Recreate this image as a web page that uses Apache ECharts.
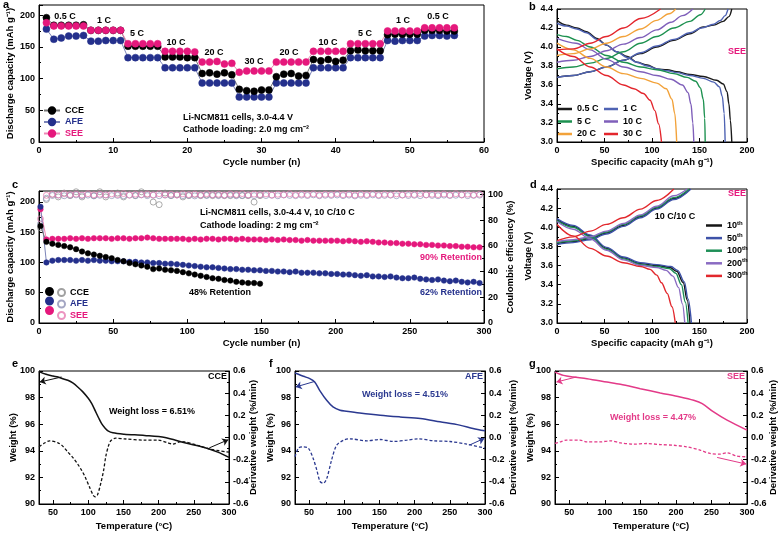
<!DOCTYPE html>
<html lang="en">
<head>
<meta charset="UTF-8">
<title>Li-NCM811 electrolytes</title>
<script src="https://cdn.jsdelivr.net/npm/echarts@6/dist/echarts.min.js"></script>
<style>
  html, body { margin: 0; padding: 0; background: #fff; }
  #main { width: 780px; height: 534px; }
</style>
</head>
<body>
<div id="main"></div>
<script>
// ---------- a : rate capability ----------
var rateCycles = [1,2,3,4,5,6,7,8,9,10,11,12,13,14,15,16,17,18,19,20,21,22,23,24,25,26,27,28,
  29,30,31,32,33,34,35,36,37,38,39,40,41,42,43,44,45,46,47,48,49,50,51,52,53,54,55,56];
var rateCCE = [196,184,184,184,184,185, 176,176,176,176,176, 151,151,151,151,151, 134,134,134,133,133,
  108,109,107,109,106, 83,81,80,82,82, 103,107,108,104,105, 130,128,130,127,129, 144,145,144,144,144,
  169,170,170,170,170, 176,176,176,175,175];
var rateAFE = [178,162,164,167,167,168, 159,159,160,160,160, 133,133,133,133,133, 117,117,117,117,117,
  93,93,93,93,93, 71,71,71,71,71, 93,93,93,93,93, 117,117,117,117,117, 133,133,133,133,133,
  160,159,160,160,160, 167,168,168,167,168];
var rateSEE = [188,183,183,183,183,183, 176,176,176,176,176, 155,155,155,155,155, 143,143,143,143,142,
  126,126,127,123,124, 110,112,112,112,112, 126,126,126,126,126, 143,143,143,143,143, 155,155,155,155,155,
  175,175,175,175,175, 180,180,180,180,180];

// ---------- c : long cycling at 10 C ----------
var longCycles = [1,5,9,13,17,21,25,29,33,37,41,45,49,53,57,61,65,69,73,77,81,85,89,93,97,
  101,105,109,113,117,121,125,129,133,137,141,145,149,153,157,161,165,169,173,177,181,185,189,193,197,
  201,205,209,213,217,221,225,229,233,237,241,245,249,253,257,261,265,269,273,277,281,285,289,293,297];
var capSEE = [188,138,139,139,139,140,139,140,139,140,140,140,139,140,140,139,140,140,141,140,139,139,139,139,139,
  138,139,138,139,139,138,139,139,138,139,138,138,138,137,138,137,138,137,137,136,137,136,136,136,136,
  136,135,136,135,134,135,134,133,133,132,132,131,131,130,130,129,129,128,128,127,127,126,126,125,125];
var capAFE = [192,100,103,104,104,104,103,104,103,104,103,103,102,102,102,101,101,100,100,99,99,98,98,97,96,
  95,94,93,92,92,91,90,89,89,88,88,87,87,86,86,85,85,84,85,83,83,83,82,82,81,
  81,80,80,79,78,79,77,77,76,77,75,74,74,75,73,72,71,72,70,69,70,68,67,68,66];
var capCCE = [160,134,131,129,127,125,122,118,115,113,111,109,107,104,102,99,97,95,93,89,
  90,88,87,86,84,82,80,78,76,74,73,71,70,68,67,66,66,65];
var ceSEE = [81,99.2,100.1,99.6,100.4,99.8,100.2,99.5,100.5,99.7,100.1,99.6,100.4,99.9,100.6,
  99.5,100.2,99.8,100.3,99.6,100.5,99.7,100.1,99.5,100.4,99.8,100.2,99.6,100.5,99.7,
  100.1,99.5,100.3,99.9,100.6,99.6,100.2,99.8,100.4,99.5,100.1,99.7,100.5,99.6,100.2,
  99.8,100.4,99.5,100.1,99.9,100.6,99.7,100.2,99.5,100.3,99.8,100.5,99.6,100.1,99.7,
  100.4,99.5,100.2,99.9,100.6,99.6,100.1,99.8,100.3,99.5,100.5,99.7,100.2,99.6,100.1];
var ceAFE = [77,97,99.1,99.4,98.9,99.3,99.6,99.0,99.4,98.8,99.3,99.5,99.0,99.2,98.9,
  99.4,99.1,99.6,99.0,99.3,98.9,99.4,99.2,99.5,99.0,99.3,98.8,99.4,99.1,99.6,
  99.0,99.3,99.5,98.9,99.2,99.4,99.0,99.6,99.1,99.3,98.9,99.5,99.2,99.0,99.4,
  99.1,99.6,98.9,99.3,99.2,99.5,99.0,99.4,98.8,99.3,99.1,99.6,99.0,99.2,99.4,
  98.9,99.5,99.1,99.3,99.0,99.6,99.2,98.9,99.4,99.1,99.3,99.5,99.0,99.2,99.4];
var ceCCE = [74,96,100,98,101,99,102,98,103,99,102,98,103,101,98,103,99,102,100,94,
  92,101,99,100,98,99,100,99,99.5,99,99.5,99,99,99.5,99,99,94,99];

// ---------- b : SEE voltage profiles at different rates ----------
var b05Dis = [[0,4.28],[10,4.23],[21,4.2],[31,4.16],[42,4.09],[52,4.02],[63,3.95],[74,3.9],[84,3.84],[95,3.81],
  [105,3.77],[116,3.76],[126,3.74],[140,3.71],[154,3.69],[168,3.65],[175,3.61],[179,3.53],[181,3.4],[182.5,3.23],[184,3.0]];
var b05Chg = [[0,3.68],[17,3.7],[35,3.74],[52,3.79],[70,3.86],[88,3.93],[105,4.0],[123,4.07],[140,4.14],[154,4.21],
  [165,4.23],[175,4.27],[181,4.32],[184,4.4]];
var b1Dis = [[0,4.25],[10,4.22],[21,4.19],[31,4.15],[42,4.08],[52,4.02],[63,3.95],[74,3.89],[84,3.84],[95,3.8],
  [105,3.77],[116,3.75],[126,3.73],[140,3.7],[154,3.67],[165,3.63],[171,3.58],[174,3.48],[176,3.3],[177,3.0]];
var b1Chg = [[0,3.68],[17,3.7],[35,3.74],[52,3.79],[70,3.86],[88,3.94],[105,4.01],[123,4.08],[140,4.15],[152,4.2],
  [165,4.24],[172,4.28],[177,4.33],[180,4.4]];
var b5Dis = [[0,4.13],[10,4.11],[21,4.07],[35,4.0],[52,3.91],[70,3.84],[88,3.79],[105,3.76],[123,3.72],[137,3.68],
  [146,3.64],[151,3.57],[154,3.45],[155.5,3.25],[156,3.0]];
var b5Chg = [[0,3.77],[17,3.79],[35,3.83],[52,3.88],[70,3.95],[88,4.04],[105,4.11],[123,4.2],[140,4.27],[151,4.34],[156,4.4]];
var b10Dis = [[0,4.09],[20,4.04],[35,3.97],[52,3.87],[70,3.79],[88,3.74],[105,3.7],[120,3.66],[132,3.6],[138,3.52],
  [141,3.4],[143,3.2],[144,3.0]];
var b10Chg = [[0,3.84],[17,3.86],[35,3.9],[52,3.96],[70,4.03],[88,4.1],[105,4.18],[120,4.26],[132,4.33],[143,4.4]];
var b20Dis = [[0,4.04],[17,3.97],[35,3.88],[52,3.79],[70,3.72],[88,3.67],[105,3.62],[115,3.56],[121,3.45],[124,3.3],[126,3.0]];
var b20Chg = [[0,3.91],[17,3.93],[35,3.98],[52,4.04],[70,4.11],[88,4.19],[105,4.28],[118,4.35],[125,4.4]];
var b30Dis = [[0,3.98],[17,3.9],[35,3.79],[52,3.7],[70,3.6],[81,3.56],[91,3.51],[98,3.44],[103,3.33],[107,3.19],[110,3.0]];
var b30Chg = [[0,3.97],[17,3.98],[35,4.04],[52,4.11],[70,4.2],[88,4.3],[109,4.4]];

// ---------- d : SEE profiles at 10 C/10 C ----------
var d10Dis = [[0,4.08],[17,4.01],[35,3.91],[52,3.78],[70,3.68],[88,3.62],[105,3.6],[119,3.58],[126,3.54],[133,3.42],[137,3.24],[140,3.0]];
var d10Chg = [[0,3.83],[17,3.85],[35,3.88],[52,3.94],[70,4.02],[88,4.11],[105,4.2],[123,4.3],[140,4.4]];
var d50Dis = [[0,4.09],[17,4.02],[35,3.92],[52,3.79],[70,3.69],[88,3.63],[105,3.61],[120,3.59],[127,3.55],[134,3.43],[138,3.25],[141.5,3.0]];
var d50Chg = [[0,3.82],[17,3.84],[35,3.87],[52,3.93],[70,4.01],[88,4.1],[105,4.19],[123,4.29],[141,4.4]];
var d100Dis = [[0,4.07],[17,4.0],[35,3.9],[52,3.77],[70,3.67],[88,3.61],[105,3.59],[118,3.57],[125,3.52],[131,3.4],[135,3.22],[138,3.0]];
var d100Chg = [[0,3.84],[17,3.86],[35,3.89],[52,3.95],[70,4.03],[88,4.12],[105,4.21],[123,4.31],[139,4.4]];
var d200Dis = [[0,4.06],[17,3.98],[35,3.88],[52,3.76],[70,3.66],[88,3.6],[105,3.58],[115,3.55],[122,3.49],[128,3.37],[132,3.2],[134.5,3.0]];
var d200Chg = [[0,3.85],[17,3.87],[35,3.9],[52,3.96],[70,4.04],[88,4.13],[105,4.22],[123,4.33],[137,4.4]];
var d300Dis = [[0,4.03],[17,3.91],[35,3.78],[52,3.7],[70,3.63],[88,3.59],[98,3.56],[105,3.5],[110,3.42],[116,3.31],[121,3.17],[124.5,3.0]];
var d300Chg = [[0,3.86],[17,3.9],[35,3.96],[52,4.03],[70,4.1],[88,4.19],[105,4.28],[123,4.4]];

// ---------- e, f, g : TGA (weight %, derivative %/min) ----------
var eWeight = [[30,99.95],[40,99.75],[50,99.62],[57,99.55],[65,99.4],[71,99.3],[78,99.1],[85,98.8],[92,98.45],[100,97.95],
  [105,97.55],[110,97.0],[115,96.45],[119,96.05],[124,95.7],[128,95.5],[135,95.35],[151,95.25],[180,95.15],[209,95.0],
  [237,94.6],[265,94.25],[284,93.9],[300,93.5]];
var eDeriv = [[30,-0.084],[38,-0.05],[45,-0.03],[57,-0.048],[64,-0.08],[71,-0.132],[78,-0.18],[85,-0.24],[90,-0.29],[95,-0.348],
  [102,-0.45],[107,-0.52],[110,-0.535],[113,-0.52],[118,-0.408],[122,-0.29],[125,-0.168],[129,-0.07],[132,-0.03],[139,-0.006],
  [151,-0.012],[180,-0.024],[199,-0.024],[213,-0.048],[220,-0.06],[232,-0.036],[256,-0.072],[275,-0.108],[300,-0.132]];
var fWeight = [[30,99.85],[42,99.6],[51,99.43],[58,99.18],[65,98.55],[75,97.8],[84,97.3],[94,97.05],[103,96.98],[122,96.85],
  [151,96.68],[179,96.55],[208,96.43],[236,96.18],[264,95.93],[283,95.68],[300,95.5]];
var fDeriv = [[30,-0.174],[35,-0.096],[42,-0.084],[49,-0.096],[56,-0.192],[61,-0.294],[65.5,-0.396],[70,-0.414],[75,-0.372],
  [82,-0.204],[89,-0.072],[99,-0.024],[108,-0.012],[132,-0.03],[151,-0.018],[170,-0.036],[189,-0.024],[205,-0.012],
  [227,-0.03],[250,-0.036],[274,-0.06],[300,-0.096]];
var gWeight = [[30,99.92],[42,99.67],[56,99.55],[75,99.42],[103,99.17],[122,99.0],[150,98.67],[178,98.35],[206,98.05],
  [225,97.8],[237,97.55],[253,96.92],[272,96.3],[300,95.55]];
var gDeriv = [[30,-0.054],[37,-0.04],[46,-0.024],[65,-0.024],[75,-0.04],[93,-0.04],[108,-0.03],[122,-0.048],[140,-0.06],
  [159,-0.054],[178,-0.064],[197,-0.07],[215,-0.084],[234,-0.114],[248,-0.144],[262,-0.15],[272,-0.138],[286,-0.168],[300,-0.174]];

var FONT = '"Liberation Sans", Arial, sans-serif';
var BLACK = '#000000', NAVY = '#24308c', PINK = '#e5187c';

function zip(xs, ys) {
  return xs.map(function (x, i) { return [x, ys[i]]; });
}

function axis(grid, min, max, interval, name, gap, showEvery) {
  var o = {
    type: 'value', gridIndex: grid, min: min, max: max,
    name: name, nameLocation: 'middle', nameGap: gap, nameMoveOverlap: false,
    nameTextStyle: { color: '#000', fontFamily: FONT, fontWeight: 'bold', fontSize: 9.5 },
    axisLine: { show: true, onZero: false, lineStyle: { color: '#000', width: 1 } },
    axisTick: { show: true, inside: true, length: 4, lineStyle: { color: '#000' } },
    minorTick: { show: true, splitNumber: 2, length: 2, lineStyle: { color: '#000' } },
    splitLine: { show: false },
    axisLabel: { color: '#000', fontFamily: FONT, fontWeight: 'bold', fontSize: 9, margin: 4 }
  };
  if (interval) o.interval = interval; else o.splitNumber = 5;
  if (showEvery) {
    o.axisLabel.formatter = function (v) {
      var r = Math.round(v * 100) / 100;
      return Math.abs(r / showEvery - Math.round(r / showEvery)) < 1e-6 ? r.toFixed(showEvery < 1 ? 1 : 0) : '';
    };
  }
  return o;
}

function txt(x, y, s, color, size, align) {
  return {
    type: 'text', x: x, y: y, silent: true,
    style: { text: s, fill: color || '#000', font: 'bold ' + (size || 9) + 'px ' + FONT,
      align: align || 'left', verticalAlign: 'middle', textAlign: align || 'left', textVerticalAlign: 'middle' }
  };
}

function arrow(from, to, color) {
  return {
    symbol: ['none', 'arrow'], symbolSize: 6, silent: true, animation: false,
    label: { show: false }, lineStyle: { color: color, width: 1, type: 'solid' },
    data: [[{ coord: from }, { coord: to }]]
  };
}

function profile(name, data, xi, yi, color) {
  return {
    name: name, type: 'line', xAxisIndex: xi, yAxisIndex: yi, data: data,
    symbol: 'none', smooth: 0.35, smoothMonotone: 'x',
    lineStyle: { color: color, width: 1.4 }, itemStyle: { color: color }
  };
}

var myChart = echarts.init(document.getElementById('main'), null, { renderer: 'canvas' });

var grids = [
  { left: 39, top: 5, width: 445, height: 137 },   // a
  { left: 557, top: 9, width: 190, height: 133 },  // b
  { left: 39, top: 191, width: 445, height: 132 }, // c
  { left: 557, top: 189, width: 190, height: 134 },// d
  { left: 39, top: 371, width: 190, height: 133 }, // e
  { left: 295, top: 371, width: 190, height: 133 },// f
  { left: 555, top: 371, width: 192, height: 133 } // g
].map(function (g) {
  g.show = true; g.borderColor = '#000'; g.borderWidth = 1;
  g.backgroundColor = 'transparent'; g.containLabel = false; g.outerBoundsMode = 'none';
  return g;
});

var xAxes = [
  axis(0, 0, 60, 10, 'Cycle number (n)', 15),
  axis(1, 0, 200, 50, 'Specific capacity (mAh g⁻¹)', 15),
  axis(2, 0, 300, 50, 'Cycle number (n)', 15),
  axis(3, 0, 200, 50, 'Specific capacity (mAh g⁻¹)', 15),
  axis(4, 30, 300, null, 'Temperature (°C)', 17, 50),
  axis(5, 30, 300, null, 'Temperature (°C)', 17, 50),
  axis(6, 30, 300, null, 'Temperature (°C)', 17, 50)
];

var yAxes = [
  axis(0, 0, 216, 50, 'Discharge capacity (mAh g⁻¹)', 24, 50),          // 0 a
  axis(1, 3.0, 4.4, 0.2, 'Voltage (V)', 24, 0.2),                         // 1 b
  axis(2, 0, 218, 50, 'Discharge capacity (mAh g⁻¹)', 24, 50),          // 2 c left
  axis(2, 0, 102.6, 20, 'Coulombic efficiency (%)', 21, 20),             // 3 c right
  axis(3, 3.0, 4.4, 0.2, 'Voltage (V)', 24, 0.2),                         // 4 d
  axis(4, 90, 100, 2, 'Weight (%)', 21),                                  // 5 e left
  axis(4, -0.6, 0.6, 0.2, 'Derivative weight (%/min)', 19, 0.2),        // 6 e right
  axis(5, 90, 100, 2, 'Weight (%)', 20),                                  // 7 f left
  axis(5, -0.6, 0.6, 0.2, 'Derivative weight (%/min)', 23, 0.2),        // 8 f right
  axis(6, 90, 100, 2, 'Weight (%)', 20),                                  // 9 g left
  axis(6, -0.6, 0.6, 0.2, 'Derivative weight (%/min)', 21, 0.2)         // 10 g right
];
[3, 6, 8, 10].forEach(function (i) { yAxes[i].position = 'right'; yAxes[i].nameRotate = 90; });
[0, 1, 2, 4, 5, 7, 9].forEach(function (i) { yAxes[i].nameRotate = 90; });

var series = [];

// a
function rateSeries(name, ys, fill, line) {
  return {
    name: name, type: 'line', xAxisIndex: 0, yAxisIndex: 0, data: zip(rateCycles, ys),
    symbol: 'circle', symbolSize: 7,
    itemStyle: { color: fill, borderColor: fill, borderWidth: 0.5 },
    lineStyle: { color: line, width: 1 }
  };
}
series.push(rateSeries('AFE@a', rateAFE, NAVY, '#7c84b8'));
series.push(rateSeries('CCE@a', rateCCE, BLACK, '#777777'));
series.push(rateSeries('SEE@a', rateSEE, PINK, '#ef86b6'));

// b
var bColors = { '0.5 C': '#1a1a1a', '1 C': '#4f63b3', '5 C': '#1d9150', '10 C': '#7f5fba', '20 C': '#f2a23a', '30 C': '#e3262d' };
[['0.5 C', b05Dis, b05Chg], ['1 C', b1Dis, b1Chg], ['5 C', b5Dis, b5Chg], ['10 C', b10Dis, b10Chg],
 ['20 C', b20Dis, b20Chg], ['30 C', b30Dis, b30Chg]].forEach(function (r) {
  series.push(profile(r[0], r[1], 1, 1, bColors[r[0]]));
  series.push(profile(r[0], r[2], 1, 1, bColors[r[0]]));
});

// c
function ceSeries(name, ys, color) {
  return {
    name: name, type: 'scatter', xAxisIndex: 2, yAxisIndex: 3, data: zip(longCycles, ys),
    symbol: 'circle', symbolSize: 6,
    itemStyle: { color: 'rgba(255,255,255,0)', borderColor: color, borderWidth: 0.9 }
  };
}
function capSeries(name, ys, fill, line) {
  return {
    name: name, type: 'line', xAxisIndex: 2, yAxisIndex: 2, data: zip(longCycles, ys),
    symbol: 'circle', symbolSize: 5.5,
    itemStyle: { color: fill, borderColor: fill, borderWidth: 0.5 },
    lineStyle: { color: line, width: 1 }
  };
}
series.push(ceSeries('CCE@ce', ceCCE, '#8a8a8a'));
series.push(ceSeries('AFE@ce', ceAFE, '#8d90b4'));
series.push(ceSeries('SEE@ce', ceSEE, '#e779b0'));
series.push(capSeries('SEE@c', capSEE, PINK, '#ef86b6'));
series.push(capSeries('AFE@c', capAFE, NAVY, '#7c84b8'));
series.push(capSeries('CCE@c', capCCE, BLACK, '#777777'));

// d
var dColors = { '10th': '#151515', '50th': '#3e52a8', '100th': '#1e8f57', '200th': '#8a6bc2', '300th': '#e2282d' };
[['10th', d10Dis, d10Chg], ['50th', d50Dis, d50Chg], ['100th', d100Dis, d100Chg], ['200th', d200Dis, d200Chg],
 ['300th', d300Dis, d300Chg]].forEach(function (r) {
  series.push(profile(r[0], r[1], 3, 4, dColors[r[0]]));
  series.push(profile(r[0], r[2], 3, 4, dColors[r[0]]));
});

// e f g
function tga(key, xi, yl, yr, w, d, color, arL, arR) {
  var sw = {
    name: key + '-w', type: 'line', xAxisIndex: xi, yAxisIndex: yl, data: w, symbol: 'none',
    smooth: 0.3, lineStyle: { color: color, width: 1.5 }, itemStyle: { color: color },
    markLine: arrow(arL[0], arL[1], color)
  };
  var sd = {
    name: key + '-d', type: 'line', xAxisIndex: xi, yAxisIndex: yr, data: d, symbol: 'none',
    smooth: 0.3, lineStyle: { color: color, width: 1.3, type: [3, 2] }, itemStyle: { color: color },
    markLine: arrow(arR[0], arR[1], color)
  };
  series.push(sw, sd);
}
tga('e', 4, 5, 6, eWeight, eDeriv, '#111111', [[62, 99.55], [31, 99.17]], [[272, -0.094], [299, -0.02]]);
tga('f', 5, 7, 8, fWeight, fDeriv, '#2b3990', [[57, 99.2], [31, 98.8]], [[278, -0.068], [299, -0.008]]);
tga('g', 6, 9, 10, gWeight, gDeriv, '#e33a88', [[60, 99.55], [32, 99.17]], [[258, -0.18], [299, -0.24]]);

var legendText = { color: '#000', fontFamily: FONT, fontWeight: 'bold', fontSize: 9, lineHeight: 11 };
function stripName(n) { return n.split('@')[0]; }

var legends = [
  { left: 43, top: 105, orient: 'vertical', itemGap: 0.5, itemWidth: 16, itemHeight: 8, formatter: stripName,
    textStyle: legendText, selectedMode: false, padding: 0,
    data: [{ name: 'CCE@a', textStyle: { color: BLACK } }, { name: 'AFE@a', textStyle: { color: NAVY } },
           { name: 'SEE@a', textStyle: { color: PINK } }] },
  { left: 558, top: 103.5, orient: 'vertical', itemGap: 1.5, itemWidth: 14, itemHeight: 2.5, icon: 'rect',
    textStyle: legendText, selectedMode: false, padding: 0, data: ['0.5 C', '5 C', '20 C'] },
  { left: 604, top: 103.5, orient: 'vertical', itemGap: 1.5, itemWidth: 14, itemHeight: 2.5, icon: 'rect',
    textStyle: legendText, selectedMode: false, padding: 0, data: ['1 C', '10 C', '30 C'] },
  { left: 45, top: 287, orient: 'vertical', itemGap: 0.5, itemWidth: 7, itemHeight: 7, icon: 'circle',
    formatter: function () { return ''; }, selectedMode: false, textStyle: legendText, padding: 0,
    data: ['CCE@c', 'AFE@c', 'SEE@c'] },
  { left: 57, top: 287, orient: 'vertical', itemGap: 0.5, itemWidth: 7, itemHeight: 7, formatter: stripName,
    selectedMode: false, textStyle: legendText, padding: 0,
    data: [{ name: 'CCE@ce', textStyle: { color: BLACK } }, { name: 'AFE@ce', textStyle: { color: NAVY } },
           { name: 'SEE@ce', textStyle: { color: PINK } }] },
  { left: 706, top: 220, orient: 'vertical', itemGap: 1.6, itemWidth: 16, itemHeight: 2.5, icon: 'rect',
    itemTextGap: 3, selectedMode: false, padding: 0,
    formatter: function (n) { return n.replace('th', '') + '{s|th}'; },
    textStyle: { color: '#000', fontFamily: FONT, fontWeight: 'bold', fontSize: 9, lineHeight: 11,
      rich: { s: { fontFamily: FONT, fontWeight: 'bold', fontSize: 6, verticalAlign: 'top', lineHeight: 11, padding: [0, 0, 4, 0] } } },
    data: ['10th', '50th', '100th', '200th', '300th'] }
];

var texts = [
  txt(3, 5, 'a', '#000', 11), txt(529, 7, 'b', '#000', 11), txt(12, 185, 'c', '#000', 11),
  txt(530, 185, 'd', '#000', 11), txt(12, 364, 'e', '#000', 11), txt(269, 364, 'f', '#000', 11),
  txt(529, 364, 'g', '#000', 11),
  // a rate labels
  txt(65, 17, '0.5 C', '#000', 9, 'center'), txt(104, 21, '1 C', '#000', 9, 'center'),
  txt(137, 34, '5 C', '#000', 9, 'center'), txt(176, 43, '10 C', '#000', 9, 'center'),
  txt(214, 53, '20 C', '#000', 9, 'center'), txt(254, 62, '30 C', '#000', 9, 'center'),
  txt(289, 53, '20 C', '#000', 9, 'center'), txt(328, 43, '10 C', '#000', 9, 'center'),
  txt(365, 34, '5 C', '#000', 9, 'center'), txt(403, 21, '1 C', '#000', 9, 'center'),
  txt(438, 17, '0.5 C', '#000', 9, 'center'),
  txt(183, 118, 'Li-NCM811 cells, 3.0-4.4 V'), txt(183, 130, 'Cathode loading: 2.0 mg cm⁻²'),
  // b
  txt(737, 52, 'SEE', PINK, 9, 'center'),
  // c
  txt(200, 213, 'Li-NCM811 cells, 3.0-4.4 V, 10 C/10 C'), txt(200, 226, 'Cathode loading: 2 mg cm⁻²'),
  txt(482, 258, '90% Retention', PINK, 9, 'right'), txt(482, 293, '62% Retention', NAVY, 9, 'right'),
  txt(189, 293, '48% Retention'),
  // d
  txt(737, 194, 'SEE', PINK, 9, 'center'), txt(675, 217, '10 C/10 C', '#000', 9, 'center'),
  // e f g
  txt(152, 412, 'Weight loss = 6.51%', '#000', 9, 'center'), txt(227, 377, 'CCE', '#000', 9, 'right'),
  txt(405, 395, 'Weight loss = 4.51%', '#2b3990', 9, 'center'), txt(483, 377, 'AFE', '#2b3990', 9, 'right'),
  txt(653, 418, 'Weight loss = 4.47%', '#e33a88', 9, 'center'), txt(745, 377, 'SEE', '#e33a88', 9, 'right')
];

myChart.setOption({
  animation: false,
  backgroundColor: '#fff',
  textStyle: { fontFamily: FONT },
  grid: grids,
  xAxis: xAxes,
  yAxis: yAxes,
  legend: legends,
  series: series,
  graphic: texts
});
</script>
</body>
</html>
